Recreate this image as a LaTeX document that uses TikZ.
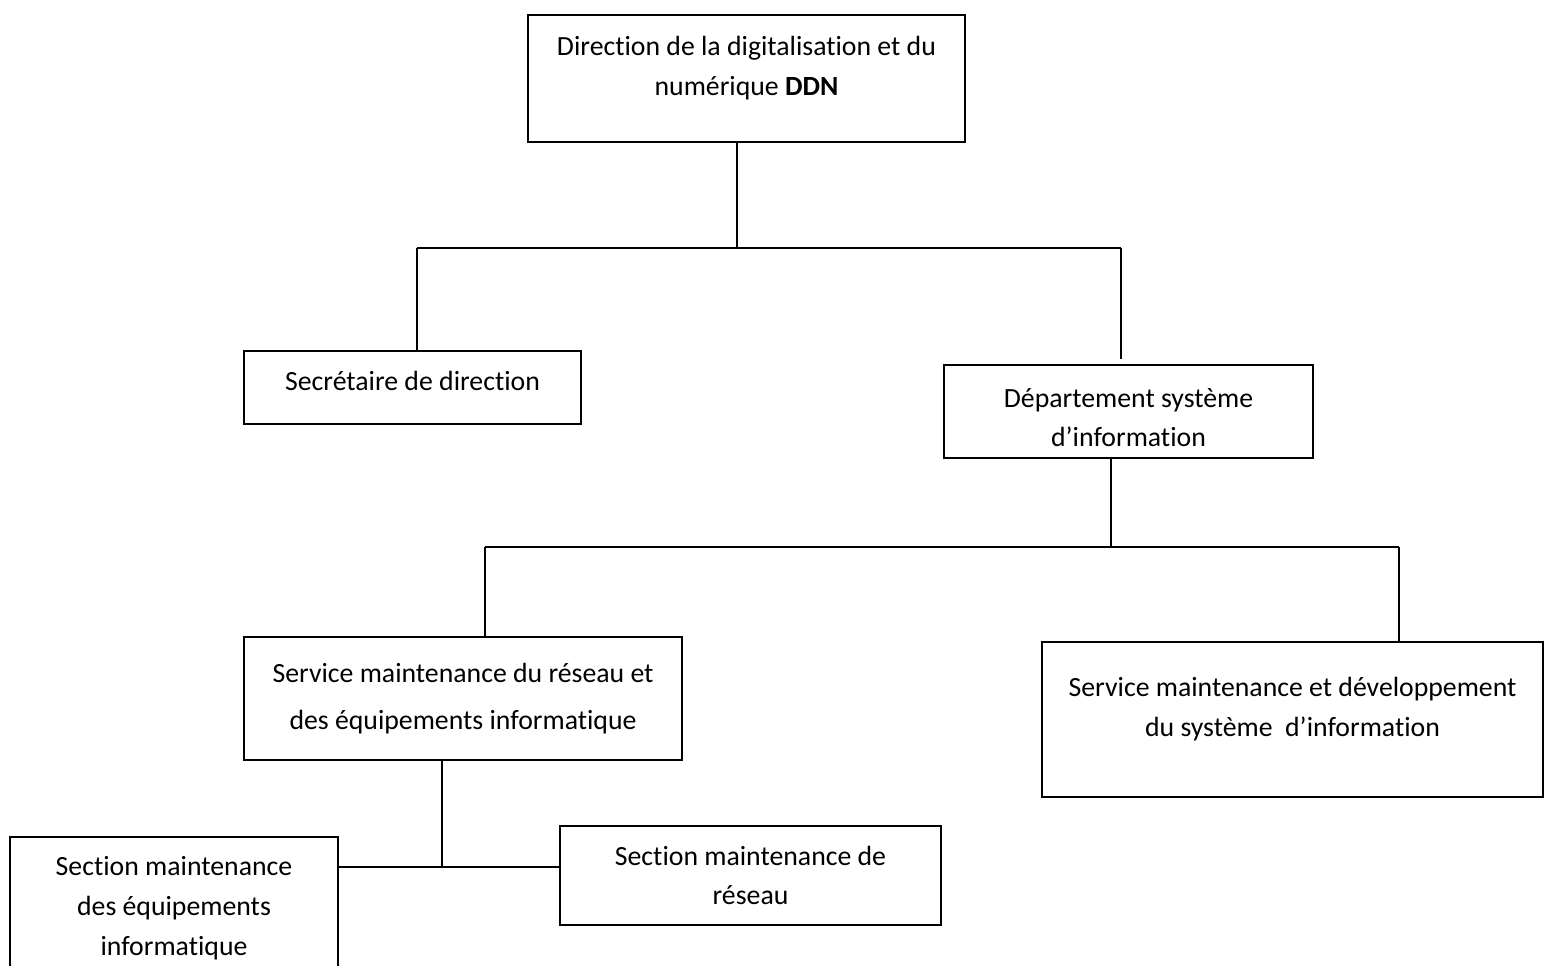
\documentclass[tikz,border=0pt]{standalone}
\usepackage{fontspec}
\setmainfont[Ligatures=NoCommon]{Carlito}
\usetikzlibrary{positioning}

\begin{document}
\begin{tikzpicture}[
    box/.style={draw, line width=1.6pt, align=center, inner sep=0pt, font=\fontsize{15.8}{22.7}\selectfont},
    wide/.style={font=\fontsize{15.8}{26.6}\selectfont},
    link/.style={line width=0.8pt}
    ]
    \useasboundingbox (0,0) rectangle (30.88,-19.32);

    % ===== DIRECTION =====
    \node[box, minimum width=8.74cm, minimum height=2.54cm, text depth=0.52cm] (DDN) at (14.93,-1.57)
        {Direction de la digitalisation et du\\num\'erique \textbf{DDN}};

    % ===== LEVEL 1 =====
    \node[box, minimum width=6.74cm, minimum height=1.46cm, text depth=0.26cm] (Sec) at (8.25,-7.75) {Secr\'etaire de direction};
    \node[box, minimum width=7.38cm, minimum height=1.86cm, text height=1.42cm] (Dep) at (22.57,-8.23)
        {D\'epartement syst\`eme\\d'information};

    % ===== LEVEL 2 =====
    \node[box, wide, minimum width=8.76cm, minimum height=2.46cm] (SRes) at (9.26,-13.97)
        {Service maintenance du r\'eseau et\\des \'equipements informatique};
    \node[box, minimum width=10.02cm, minimum height=3.10cm, text depth=0.52cm] (SSI) at (25.85,-14.39)
        {Service maintenance et d\'eveloppement\\du syst\`eme\ \ d'information};

    % ===== LEVEL 3 =====
    \node[box, minimum width=6.56cm, minimum height=2.86cm] (SecEq) at (3.48,-18.17)
        {Section maintenance\\des \'equipements\\informatique};
    \node[box, minimum width=7.62cm, minimum height=1.98cm] (SecRes) at (15.01,-17.51)
        {Section maintenance de\\r\'eseau};

    % ===== JUNCTIONS =====
    \coordinate (j1) at (14.74,-4.96);
    \coordinate (b1l) at (8.34,-4.96);
    \coordinate (b1r) at (22.42,-4.96);
    \coordinate (j2) at (22.22,-10.94);
    \coordinate (b2l) at (9.70,-10.94);
    \coordinate (b2r) at (27.98,-10.94);
    \coordinate (j3) at (8.84,-17.34);

    % ===== LINES =====
    \draw[link] (j1 |- DDN.south) -- (j1);
    \draw[link] (b1l) -- (b1r);
    \draw[link] (b1l) -- (b1l |- Sec.north);
    \draw[link] (b1r) -- ([yshift=0.1cm]b1r |- Dep.north);

    \draw[link] (j2 |- Dep.south) -- (j2);
    \draw[link] (b2l) -- (b2r);
    \draw[link] (b2l) -- (b2l |- SRes.north);
    \draw[link] (b2r) -- (b2r |- SSI.north);

    \draw[link] (j3 |- SRes.south) -- (j3);
    \draw[link] (SecEq.east |- j3) -- (SecRes.west |- j3);

\end{tikzpicture}
\end{document}
